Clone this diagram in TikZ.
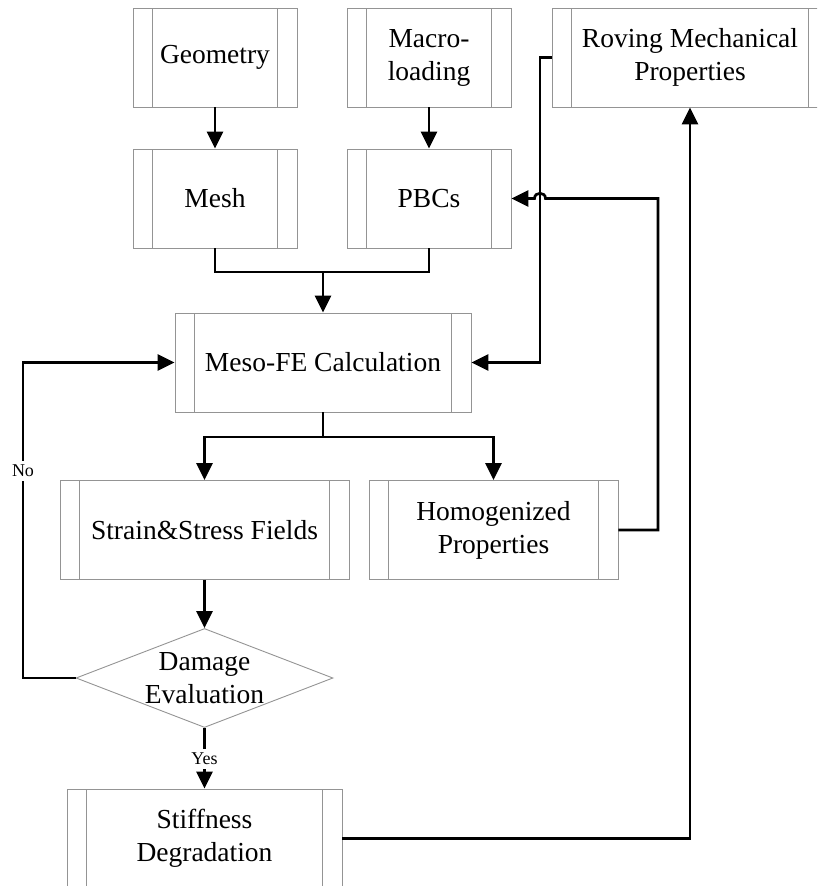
\documentclass[tikz,border=0pt]{standalone}
\usepackage{fontspec}
\setmainfont{Liberation Serif}
\usetikzlibrary{arrows.meta,shapes.geometric,calc}
\begin{document}
\begin{tikzpicture}[x=1pt,y=-1pt,
  boxline/.style={draw=black!42,line width=0.9pt},
  proc/.style={boxline, rectangle, inner sep=0pt, minimum height=99pt, align=center,
    font=\fontsize{27.5}{33}\selectfont,
    path picture={\draw[black!42,line width=0.9pt]
      ([xshift=19.5pt]path picture bounding box.north west) -- ([xshift=19.5pt]path picture bounding box.south west)
      ([xshift=-19.5pt]path picture bounding box.north east) -- ([xshift=-19.5pt]path picture bounding box.south east);}},
  conn/.style={line width=2.7pt, line join=miter},
  arr/.style={conn, -{Triangle[length=17pt,width=16pt]}},
  lbl/.style={fill=white, inner sep=4pt, font=\fontsize{18}{20}\selectfont},
  dtext/.style={align=center, inner sep=0pt, font=\fontsize{27.5}{33}\selectfont}
]
\useasboundingbox (0,0) rectangle (817,886);
\clip (0,0) rectangle (817,886);

% nodes
\node[proc, minimum width=164] (geo) at (215,57.5) {Geometry};
\node[proc, minimum width=164] (macro) at (429,57.5) {Macro-\\loading};
\node[proc, minimum width=276] (rov) at (690,57.5) {Roving Mechanical\\Properties};
\node[proc, minimum width=164] (mesh) at (215,198.5) {Mesh};
\node[proc, minimum width=164] (pbc) at (429,198.5) {PBCs};
\node[proc, minimum width=296] (meso) at (323,362.5) {Meso-FE Calculation};
\node[proc, minimum width=289] (ss) at (204.5,530) {Strain\&Stress Fields};
\node[proc, minimum width=249] (hom) at (493.5,530) {Homogenized\\Properties};
\node[diamond, boxline, minimum width=257pt, minimum height=99pt, inner sep=0pt, aspect=2.6] (dmg) at (204.5,678) {};
\node[dtext] (dmgtxt) at (dmg.center) {Damage\\Evaluation};
\node[proc, minimum width=275] (stf) at (204.5,838.5) {Stiffness\\Degradation};

% helper coordinates
\coordinate (j1) at (323,272);
\coordinate (j2) at (323,437);
\coordinate (c1) at (540,362.5);
\coordinate (c2) at (658,198.5);
\coordinate (h1) at (545.5,198.5);
\coordinate (h2) at (534.5,198.5);
\coordinate (c3) at (23,362.5);

% connectors
\draw[arr] (geo.south) -- (mesh.north);
\draw[arr] (macro.south) -- (pbc.north);
\draw[conn] (mesh.south) |- (j1) -| (pbc.south);
\draw[arr] (j1) -- (meso.north);
\draw[arr] (rov.west) -| (c1) -- (meso.east);
\draw[arr] (hom.east) -| (c2) -- (h1) .. controls +(0,-7) and +(0,-7) .. (h2) -- (pbc.east);
\draw[conn] (meso.south) -- (j2);
\draw[arr] (j2) -| (ss.north);
\draw[arr] (j2) -| (hom.north);
\draw[arr] (ss.south) -- (dmg.north);
\draw[arr] (dmg.west) -| (c3) -- (meso.west);
\draw[arr] (dmg.south) -- (stf.north);
\draw[arr] (stf.east) -| (rov.south);

% labels
\node[lbl] (no) at (23,471) {No};
\node[lbl] (yes) at (204.5,759) {Yes};
\end{tikzpicture}
\end{document}
